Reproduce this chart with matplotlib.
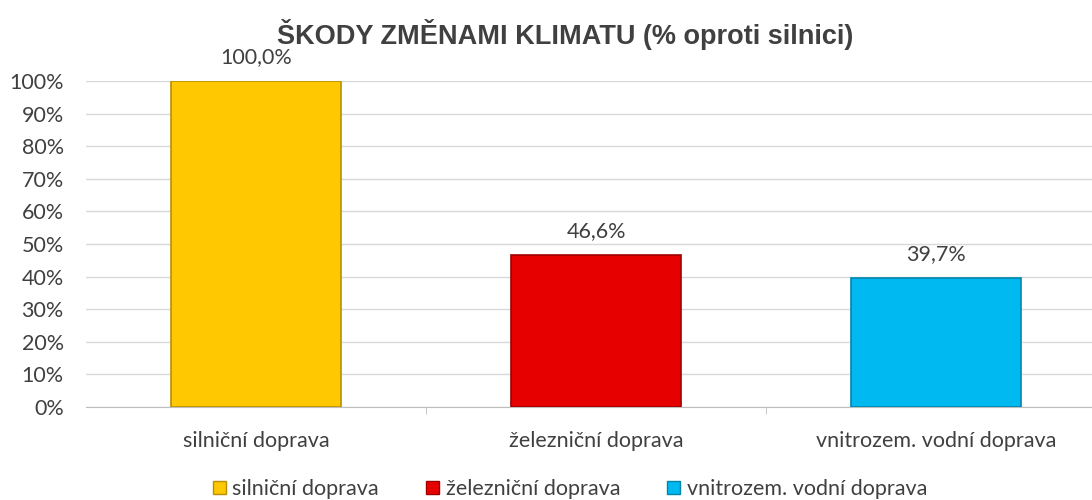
import matplotlib.pyplot as plt
from matplotlib.ticker import FuncFormatter
from matplotlib.patches import Patch

categories = ["silniční doprava", "železniční doprava", "vnitrozem. vodní doprava"]
values = [100.0, 46.6, 39.7]
labels = ["100,0%", "46,6%", "39,7%"]
colors = ["#FFC800", "#E60000", "#00B9F0"]
edges = ["#B88F00", "#A00000", "#0085AD"]

plt.rcParams['font.family'] = ['Lato', 'DejaVu Sans']

fig = plt.figure(figsize=(10.92, 5.0), dpi=100)
ax = fig.add_axes([0.0788, 0.186, 0.9212, 0.652])

x = range(len(categories))
ax.bar(x, values, width=0.5, color=colors, edgecolor=edges, linewidth=1.2, zorder=3)

for i, (v, lab) in enumerate(zip(values, labels)):
    ax.annotate(lab, (i, v), xytext=(0, 10), textcoords="offset points",
                ha="center", va="bottom", fontsize=15.5, color="#404040")

ax.set_xlim(-0.5, -0.5 + (1092 - 86) / 340)
ax.set_ylim(0, 100)
ax.set_yticks(range(0, 101, 10))
ax.yaxis.set_major_formatter(FuncFormatter(lambda v, p: f"{int(v)}%"))
ax.set_xticks(list(x))
ax.set_xticklabels(categories)
ax.set_xticks([0.5, 1.5], minor=True)
ax.tick_params(axis="x", which="major", length=0, pad=17, labelsize=15.5, labelcolor="#404040")
ax.tick_params(axis="x", which="minor", length=5, color="#bfbfbf")
ax.tick_params(axis="y", length=0, pad=16, labelsize=15.5, labelcolor="#404040")

ax.grid(axis="y", color="#d9d9d9", linewidth=1, zorder=0)
for s in ["top", "right", "left"]:
    ax.spines[s].set_visible(False)
ax.spines["bottom"].set_color("#bfbfbf")

fig.text(0.518, 0.93, "ŠKODY ZMĚNAMI KLIMATU (% oproti silnici)", ha="center", va="center",
         fontsize=19.5, fontweight="bold", color="#404040", family=["Liberation Sans", "DejaVu Sans"])

handles = [Patch(facecolor=c, edgecolor=e) for c, e in zip(colors, edges)]
fig.legend(handles, categories, loc="center", bbox_to_anchor=(0.522, 0.022), ncol=3,
           frameon=False, fontsize=15.5, labelcolor="#404040", handlelength=0.6,
           handleheight=0.6, handletextpad=0.3, columnspacing=2.2)

fig.savefig("out.png", dpi=100)
